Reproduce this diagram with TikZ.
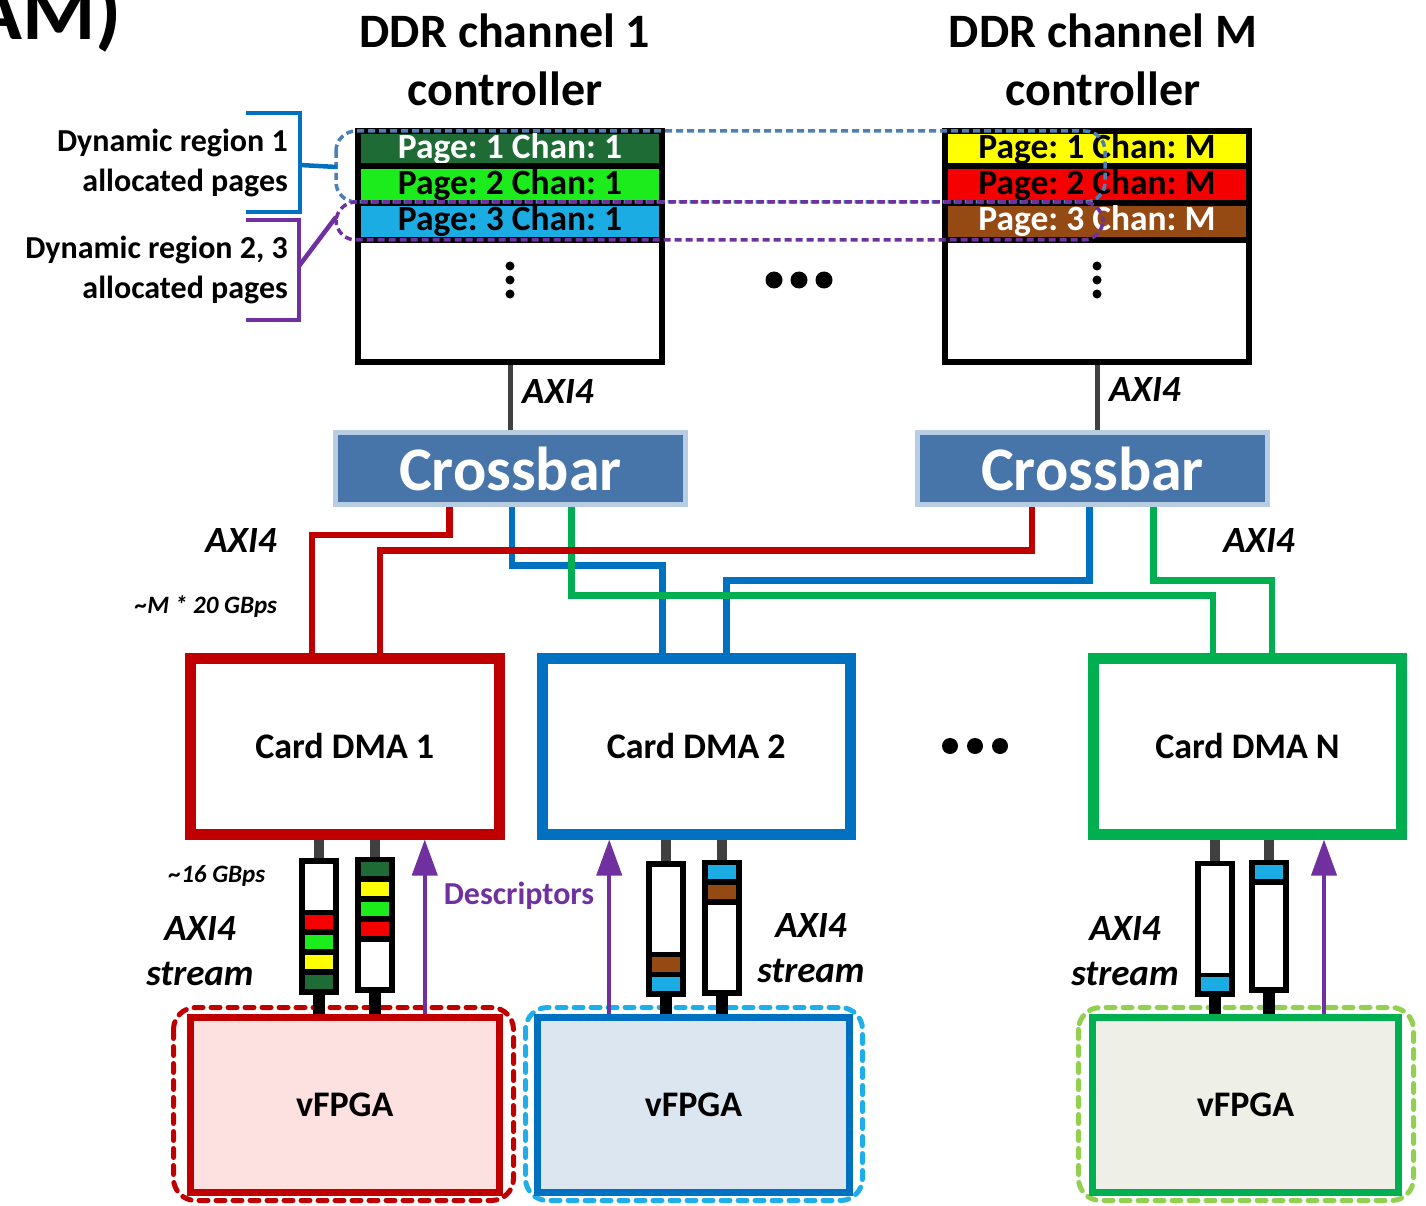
\documentclass[tikz,border=0pt]{standalone}
\usepackage{fontspec}
\setmainfont{Carlito}
\usetikzlibrary{arrows.meta}
\frenchspacing

\definecolor{dmared}{HTML}{C00000}
\definecolor{dmablue}{HTML}{0070C0}
\definecolor{dmagreen}{HTML}{00B050}
\definecolor{pagedkgreen}{HTML}{1E6B35}
\definecolor{pagegreen}{HTML}{1CEB1C}
\definecolor{pageblue}{HTML}{1CACE4}
\definecolor{pageyellow}{HTML}{FFFF00}
\definecolor{pagered}{HTML}{F50000}
\definecolor{pagebrown}{HTML}{944A12}
\definecolor{xbarfill}{HTML}{4775AA}
\definecolor{xbarrim}{HTML}{B8CCE4}
\definecolor{descpurple}{HTML}{7030A0}
\definecolor{regionblue}{HTML}{4F7FB5}
\definecolor{vfred}{HTML}{FDE0E0}
\definecolor{vfblue}{HTML}{DCE6F1}
\definecolor{vfgreen}{HTML}{EEF0E8}
\definecolor{dashblue}{HTML}{1FAEEA}
\definecolor{dashgreen}{HTML}{92D050}
\definecolor{stubgrey}{HTML}{404040}

\newcommand\setfs[2]{\fontsize{#1}{#2}\selectfont}

\tikzset{
  membox/.style={draw=black, line width=6pt, fill=white, minimum width=304pt,
    minimum height=231pt, inner sep=0},
  pagerow/.style={draw=black, line width=6pt, minimum width=304pt, inner sep=0,
    font=\bfseries\setfs{35.5}{40}},
  xbar/.style={draw=xbarrim, fill=xbarfill, line width=5pt, minimum width=350pt,
    minimum height=72pt, text=white, font=\bfseries\setfs{62}{70}, inner sep=0},
  dmabox/.style={line width=11pt, fill=white, minimum height=175.5pt,
    font=\bfseries\setfs{36}{42}, inner sep=0},
  vfbox/.style={line width=7pt, minimum height=175pt,
    font=\bfseries\setfs{36}{42}, inner sep=0},
  fifo/.style={fill=black, minimum width=40pt, inner sep=0, outer sep=0},
  link/.style={line width=6.5pt},
  axiline/.style={draw=stubgrey, line width=5pt},
  stubtop/.style={draw=stubgrey, line width=10pt},
  stubbot/.style={draw=black, line width=12pt},
  desc/.style={draw=descpurple, line width=4pt, -{Triangle[width=25pt,length=36pt]}},
  vfdash/.style={line width=5pt, dash pattern=on 9pt off 8pt, line cap=round,
    rounded corners=22pt},
  regiondash/.style={line width=3.5pt, dash pattern=on 7pt off 4pt, rounded corners=20pt},
  bracket/.style={line width=4.5pt},
  title/.style={font=\bfseries\setfs{48}{58}, align=center, inner sep=0},
  side/.style={font=\bfseries\setfs{32}{40}, align=right, inner sep=0, anchor=east},
  lbl/.style={font=\bfseries\itshape\setfs{37}{45}, align=center, inner sep=0},
  smalllbl/.style={font=\bfseries\itshape\setfs{25}{30}, inner sep=0},
}

\begin{document}
\begin{tikzpicture}[x=1pt, y=-1pt]
\useasboundingbox (0,0) rectangle (1426,1206);
\clip (0,0) rectangle (1426,1206);
\fill[white] (0,0) rectangle (1426,1206);

% heading fragment at the top-left corner
\node[font=\bfseries\setfs{84}{90}, anchor=base east, inner sep=0] (head) at (122,40) {AM)};

% DDR channel controllers
\node[title] (t1) at (505,60) {DDR channel 1\\controller};
\node[title] (tM) at (1103,60) {DDR channel M\\controller};

\node[membox] (mem1) at (510,246.5) {};
\node[membox] (memM) at (1097,246.5) {};

\node[pagerow, fill=pagedkgreen, text=white, minimum height=35.5pt] (p11) at (510,148.75) {Page: 1 Chan: 1};
\node[pagerow, fill=pagegreen, minimum height=36.5pt] (p12) at (510,184.75) {Page: 2 Chan: 1};
\node[pagerow, fill=pageblue, minimum height=37pt] (p13) at (510,221.5) {Page: 3 Chan: 1};

\node[pagerow, fill=pageyellow, minimum height=35.5pt] (pM1) at (1097,148.75) {Page: 1 Chan: M};
\node[pagerow, fill=pagered, minimum height=36.5pt] (pM2) at (1097,184.75) {Page: 2 Chan: M};
\node[pagerow, fill=pagebrown, text=white, minimum height=37pt] (pM3) at (1097,221.5) {Page: 3 Chan: M};

% vertical ellipses inside the memories
\foreach \yy in {266,280,294} {
  \fill (510,\yy) circle (4.5pt);
  \fill (1097,\yy) circle (4.5pt);
}
% ellipsis between the channels
\foreach \xx in {774,799,824} \fill (\xx,280) circle (8.5pt);

% dynamic region outlines across the channels
\draw[regiondash, regionblue] (336,131) rectangle (1105,202);
\draw[regiondash, descpurple] (336,202) rectangle (1103,240);

% region brackets and labels
\draw[bracket, dmablue] (246,113) -- (300,113) -- (300,212) -- (246,212);
\draw[bracket, dmablue] (300,165) -- (337,167);
\draw[bracket, descpurple] (246,220) -- (299,220) -- (299,320) -- (246,320);
\draw[bracket, descpurple] (299,266) -- (336,217);
\node[side] (dr1) at (288,163) {Dynamic region 1\\allocated pages};
\node[side] (dr2) at (288,270) {Dynamic region 2, 3\\allocated pages};

% crossbars
\node[xbar] (xb1) at (510.5,468.5) {Crossbar};
\node[xbar] (xbM) at (1092.5,468.5) {Crossbar};
\draw[axiline] (mem1.south) -- (mem1.south |- xb1.north);
\draw[axiline] (memM.south) -- (memM.south |- xbM.north);
\node[lbl, anchor=west] (axm1) at (522,392) {AXI4};
\node[lbl, anchor=west] (axmM) at (1109,390) {AXI4};

% card DMA engines
\node[dmabox, draw=dmared, minimum width=309.5pt] (dma1) at (344.75,746.25) {Card DMA 1};
\node[dmabox, draw=dmablue, minimum width=308.5pt] (dma2) at (696.25,746.25) {Card DMA 2};
\node[dmabox, draw=dmagreen, minimum width=308pt] (dmaN) at (1247.5,746.25) {Card DMA N};
\foreach \xx in {950,975,1000} \fill (\xx,746) circle (8pt);

% crossbar to DMA links
\draw[link, dmablue] ([xshift=1.5pt]xb1.south) -- ++(0,58.5) -| ([xshift=-34pt]dma2.north);
\draw[link, dmablue] ([xshift=-3pt]xbM.south) -- ++(0,73.5) -| ([xshift=30pt]dma2.north);
\draw[link, dmagreen] ([xshift=61pt]xb1.south) -- ++(0,88.5) -| ([xshift=-34.5pt]dmaN.north);
\draw[link, dmagreen] ([xshift=61pt]xbM.south) -- ++(0,73.5) -| ([xshift=24.5pt]dmaN.north);
\draw[link, dmared] ([xshift=-61pt]xb1.south) -- ++(0,28) -| ([xshift=-33pt]dma1.north);
\draw[link, dmared] ([xshift=-60.5pt]xbM.south) -- ++(0,43.5) -| ([xshift=35pt]dma1.north);

\node[lbl] (axl) at (241,540) {AXI4};
\node[lbl] (axr) at (1259,540) {AXI4};
\node[smalllbl] (bwm) at (206,607) {\textasciitilde M * 20 GBps};

% vFPGA regions
\draw[vfdash, dmared] (173.5,1007.5) rectangle (513.5,1200.5);
\draw[vfdash, dashblue] (525.5,1007.5) rectangle (862.5,1200.5);
\draw[vfdash, dashgreen] (1078.5,1007.5) rectangle (1413.5,1200.5);
\node[vfbox, draw=dmared, fill=vfred, minimum width=309.5pt] (vf1) at (344.75,1104.5) {vFPGA};
\node[vfbox, draw=dmablue, fill=vfblue, minimum width=312pt] (vf2) at (693.5,1104.5) {vFPGA};
\node[vfbox, draw=dmagreen, fill=vfgreen, minimum width=306pt] (vfN) at (1245.5,1104.5) {vFPGA};

% stream FIFOs
\node[fifo, minimum height=137pt] (f1) at (319,926.5) {};
\node[fifo, minimum height=136pt] (f2) at (375,925) {};
\node[fifo, minimum height=136pt] (f3) at (665.5,929) {};
\node[fifo, minimum height=136pt] (f4) at (722,928) {};
\node[fifo, minimum height=136pt] (f5) at (1214.5,929) {};
\node[fifo, minimum height=133pt] (f6) at (1269,926.5) {};

\fill[white] (305,864) rectangle (333,910);
\fill[pagered] (305,915) rectangle (333,929);
\fill[pagegreen] (305,935) rectangle (333,949);
\fill[pageyellow] (305,955) rectangle (333,969);
\fill[pagedkgreen] (305,975) rectangle (333,989);

\fill[pagedkgreen] (361,862) rectangle (389,876);
\fill[pageyellow] (361,882) rectangle (389,896);
\fill[pagegreen] (361,902) rectangle (389,916);
\fill[pagered] (361,922) rectangle (389,936);
\fill[white] (361,942) rectangle (389,987);

\fill[white] (651.5,867) rectangle (679.5,952);
\fill[pagebrown] (651.5,957) rectangle (679.5,972);
\fill[pageblue] (651.5,977) rectangle (679.5,991);

\fill[pageblue] (708,865) rectangle (736,879);
\fill[pagebrown] (708,885) rectangle (736,899);
\fill[white] (708,905) rectangle (736,990);

\fill[white] (1200.5,866) rectangle (1228.5,973);
\fill[pageblue] (1200.5,977) rectangle (1228.5,991);

\fill[pageblue] (1255,865) rectangle (1283,879);
\fill[white] (1255,885) rectangle (1283,987);

\foreach \f/\d/\v in {f1/dma1/vf1, f2/dma1/vf1, f3/dma2/vf2, f4/dma2/vf2, f5/dmaN/vfN, f6/dmaN/vfN} {
  \draw[stubtop] (\d.south -| \f.north) -- (\f.north);
  \draw[stubbot] (\f.south) -- (\f.south |- \v.north);
}

% descriptor paths
\coordinate (d1tip) at ([xshift=80pt]dma1.south);
\coordinate (d2tip) at ([xshift=-87pt]dma2.south);
\coordinate (dNtip) at ([xshift=76.5pt]dmaN.south);
\draw[desc] (vf1.north -| d1tip) -- (d1tip);
\draw[desc] (vf2.north -| d2tip) -- (d2tip);
\draw[desc] (vfN.north -| dNtip) -- (dNtip);

\node[font=\bfseries\setfs{32}{38}, text=descpurple, inner sep=0] (descl) at (519,896) {Descriptors};
\node[smalllbl] (bw16) at (217,876) {\textasciitilde 16 GBps};
\node[lbl] (st1) at (200,951) {AXI4\\stream};
\node[lbl] (st2) at (811,948) {AXI4\\stream};
\node[lbl] (stN) at (1125,951) {AXI4\\stream};
\end{tikzpicture}
\end{document}
